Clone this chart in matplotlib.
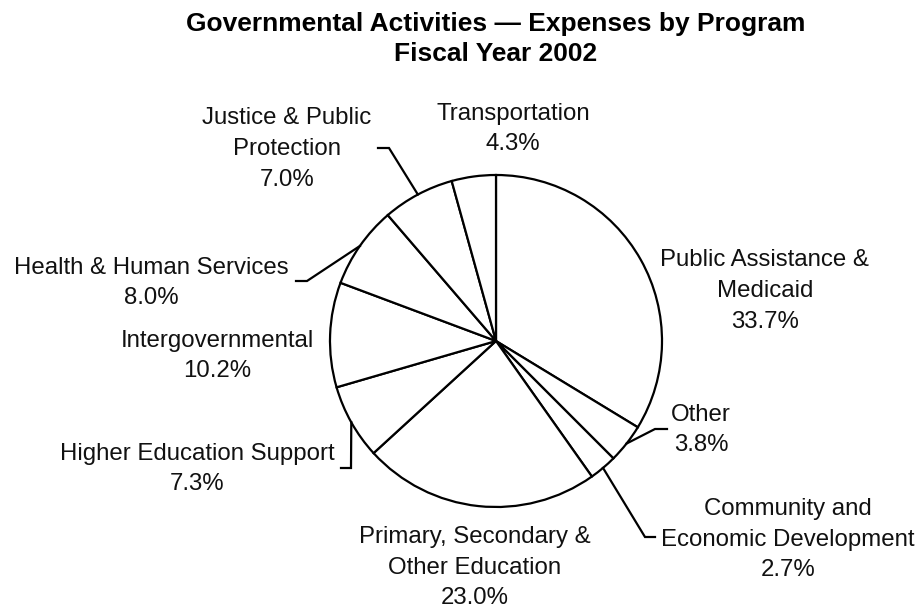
import numpy as np
import matplotlib
matplotlib.use("Agg")
import matplotlib.pyplot as plt

plt.rcParams['font.family'] = ['Liberation Sans', 'DejaVu Sans']

# Expense shares by program, FY2002 (percent), clockwise from 12 o'clock
programs = [
    "Public Assistance &\nMedicaid",
    "Other",
    "Community and\nEconomic Development",
    "Primary, Secondary &\nOther Education",
    "Higher Education Support",
    "Intergovernmental",
    "Health & Human Services",
    "Justice & Public\nProtection",
    "Transportation",
]
shares = [33.7, 3.8, 2.7, 23.0, 7.3, 10.2, 8.0, 7.0, 4.3]

W, H = 924, 608
fig = plt.figure(figsize=(W / 100, H / 100), dpi=100)
ax = fig.add_axes([0, 0, 1, 1])


def px(x, y):
    """Convert top-left pixel coordinates to data coordinates."""
    return x, H - y


cx, cy = px(496, 341)
R = 166
wedges, _ = ax.pie(shares, startangle=90, counterclock=False, center=(cx, cy),
                   radius=R, colors=['white'] * len(shares),
                   wedgeprops=dict(edgecolor='black', linewidth=1.6),
                   frame=True)
ax.set_xlim(0, W)
ax.set_ylim(0, H)
ax.set_aspect('equal')
ax.axis('off')

# Label block centres (pixels)
label_pos = [
    (765, 291), (701, 430), (788, 540), (475, 568), (197, 469),
    (217, 356), (151, 283), (287, 149), (513, 129),
]
for name, val, (lx, ly) in zip(programs, shares, label_pos):
    x, y = px(lx, ly)
    ax.text(x, y, f"{name}\n{val:.1f}%", ha='center', va='center',
            multialignment='center', fontsize=17.3, linespacing=1.5,
            color='#111111')

# Leader lines: wedge index -> (elbow, end) in pixels
leaders = {
    1: ((655, 429), (667, 429)),
    2: ((645, 537), (655, 537)),
    4: ((351, 468), (341, 468)),
    6: ((307, 281), (296, 281)),
    7: ((389, 148), (378, 148)),
}
for i, (elbow, end) in leaders.items():
    w = wedges[i]
    mid = np.deg2rad((w.theta1 + w.theta2) / 2)
    sx, sy = cx + R * np.cos(mid), cy + R * np.sin(mid)
    ex, ey = px(*elbow)
    fx, fy = px(*end)
    ax.plot([sx, ex, fx], [sy, ey, fy], color='black', lw=1.6,
            solid_joinstyle='miter')

tx, ty = px(496, 39)
ax.text(tx, ty, "Governmental Activities \u2014 Expenses by Program\nFiscal Year 2002",
        ha='center', va='center', fontsize=19, fontweight='bold',
        linespacing=1.32, color='black')

fig.savefig("out.png", dpi=100, facecolor='white')
